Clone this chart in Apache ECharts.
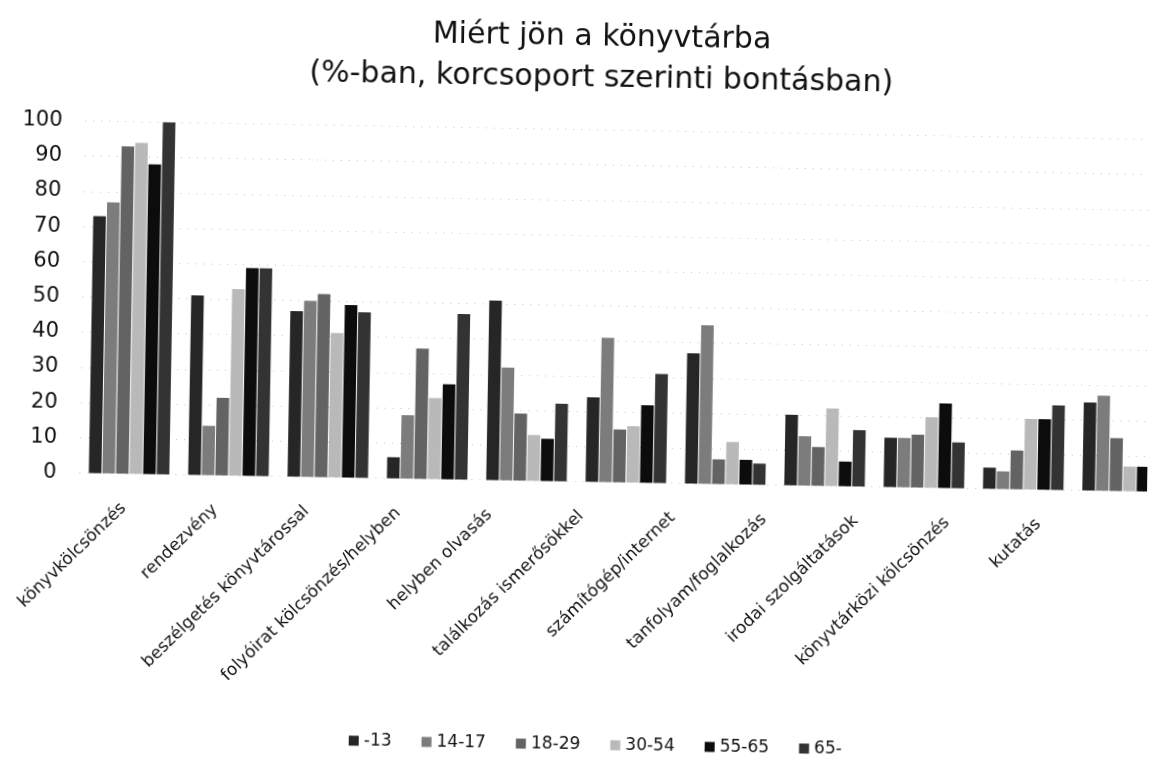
<!DOCTYPE html>
<html lang="hu">
<head>
<meta charset="utf-8">
<title>Miért jön a könyvtárba</title>
<script src="https://cdn.jsdelivr.net/npm/echarts@6/dist/echarts.min.js"></script>
<style>
  html, body { margin: 0; padding: 0; background: #ffffff; overflow: hidden; }
  #chart { width: 1149px; height: 769px; transform: rotate(1deg); transform-origin: 50% 50%; }
</style>
</head>
<body>
<div id="chart"></div>
<script>
// Reasons for visiting the library, % by age group
const categories = [
  'könyvkölcsönzés',
  'rendezvény',
  'beszélgetés könyvtárossal',
  'folyóirat kölcsönzés/helyben',
  'helyben olvasás',
  'találkozás ismerősökkel',
  'számítógép/internet',
  'tanfolyam/foglalkozás',
  'irodai szolgáltatások',
  'könyvtárközi kölcsönzés',
  'kutatás'
];
const ageGroups = ['-13', '14-17', '18-29', '30-54', '55-65', '65-'];

const age13   = [73, 51, 47,  6, 51, 24, 37, 20, 14,  6, 25];
const age1417 = [77, 14, 50, 18, 32, 41, 45, 14, 14,  5, 27];
const age1829 = [93, 22, 52, 37, 19, 15,  7, 11, 15, 11, 15];
const age3054 = [94, 53, 41, 23, 13, 16, 12, 22, 20, 20,  7];
const age5565 = [88, 59, 49, 27, 12, 22,  7,  7, 24, 20,  7];
const age65   = [100, 59, 47, 47, 22, 31,  6, 16, 13, 24, null];

const yTicks = { min: 0, max: 100, interval: 10 };

const seriesValues = [age13, age1417, age1829, age3054, age5565, age65];
const seriesColors = ['#262626', '#7c7c7c', '#636363', '#b9b9b9', '#0c0c0c', '#333333'];

const FONT = 'DejaVu Sans';
const INK = '#111111';

const chart = echarts.init(document.getElementById('chart'), null, { renderer: 'canvas' });

chart.setOption({
  backgroundColor: '#ffffff',
  animation: false,
  title: {
    text: 'Miért jön a könyvtárba\n(%-ban, korcsoport szerinti bontásban)',
    left: 591,
    top: 12,
    textAlign: 'center',
    textStyle: {
      fontFamily: FONT,
      fontSize: 30,
      fontWeight: 'normal',
      color: INK,
      lineHeight: 41
    }
  },
  legend: {
    data: ageGroups,
    left: 350,
    bottom: 11,
    itemWidth: 10,
    itemHeight: 10,
    itemGap: 30,
    icon: 'rect',
    textStyle: { fontFamily: FONT, fontSize: 17, color: INK }
  },
  grid: [
    // plot area (last group runs past the right edge)
    { left: 81, width: 1093, top: 129.5, bottom: 287.5, outerBoundsMode: 'none' },
    // category label band
    { left: 80, width: 1006.5, top: 129.5, bottom: 287.5, outerBoundsMode: 'none' }
  ],
  xAxis: [
    {
      type: 'category',
      gridIndex: 0,
      data: categories,
      axisLine: { show: false },
      axisTick: { show: false },
      axisLabel: { show: false }
    },
    {
      type: 'category',
      gridIndex: 1,
      data: categories,
      axisLine: { show: false },
      axisTick: { show: false },
      splitLine: { show: false },
      axisLabel: {
        interval: 0,
        rotate: 45,
        margin: 32,
        fontFamily: FONT,
        fontSize: 17,
        color: INK
      }
    }
  ],
  yAxis: [
    {
      type: 'value',
      gridIndex: 0,
      min: yTicks.min,
      max: yTicks.max,
      interval: yTicks.interval,
      axisLine: { show: false },
      axisTick: { show: false },
      axisLabel: {
        margin: 23,
        fontFamily: FONT,
        fontSize: 21,
        color: INK
      },
      splitLine: {
        show: true,
        lineStyle: { color: '#c4c4c4', width: 1, type: [1, 7] }
      }
    },
    {
      type: 'value',
      gridIndex: 1,
      min: yTicks.min,
      max: yTicks.max,
      show: false
    }
  ],
  series: ageGroups.map((name, i) => ({
    name: name,
    type: 'bar',
    xAxisIndex: 0,
    yAxisIndex: 0,
    data: seriesValues[i],
    barGap: '8%',
    barCategoryGap: '19%',
    itemStyle: { color: seriesColors[i] }
  }))
});
</script>
</body>
</html>
